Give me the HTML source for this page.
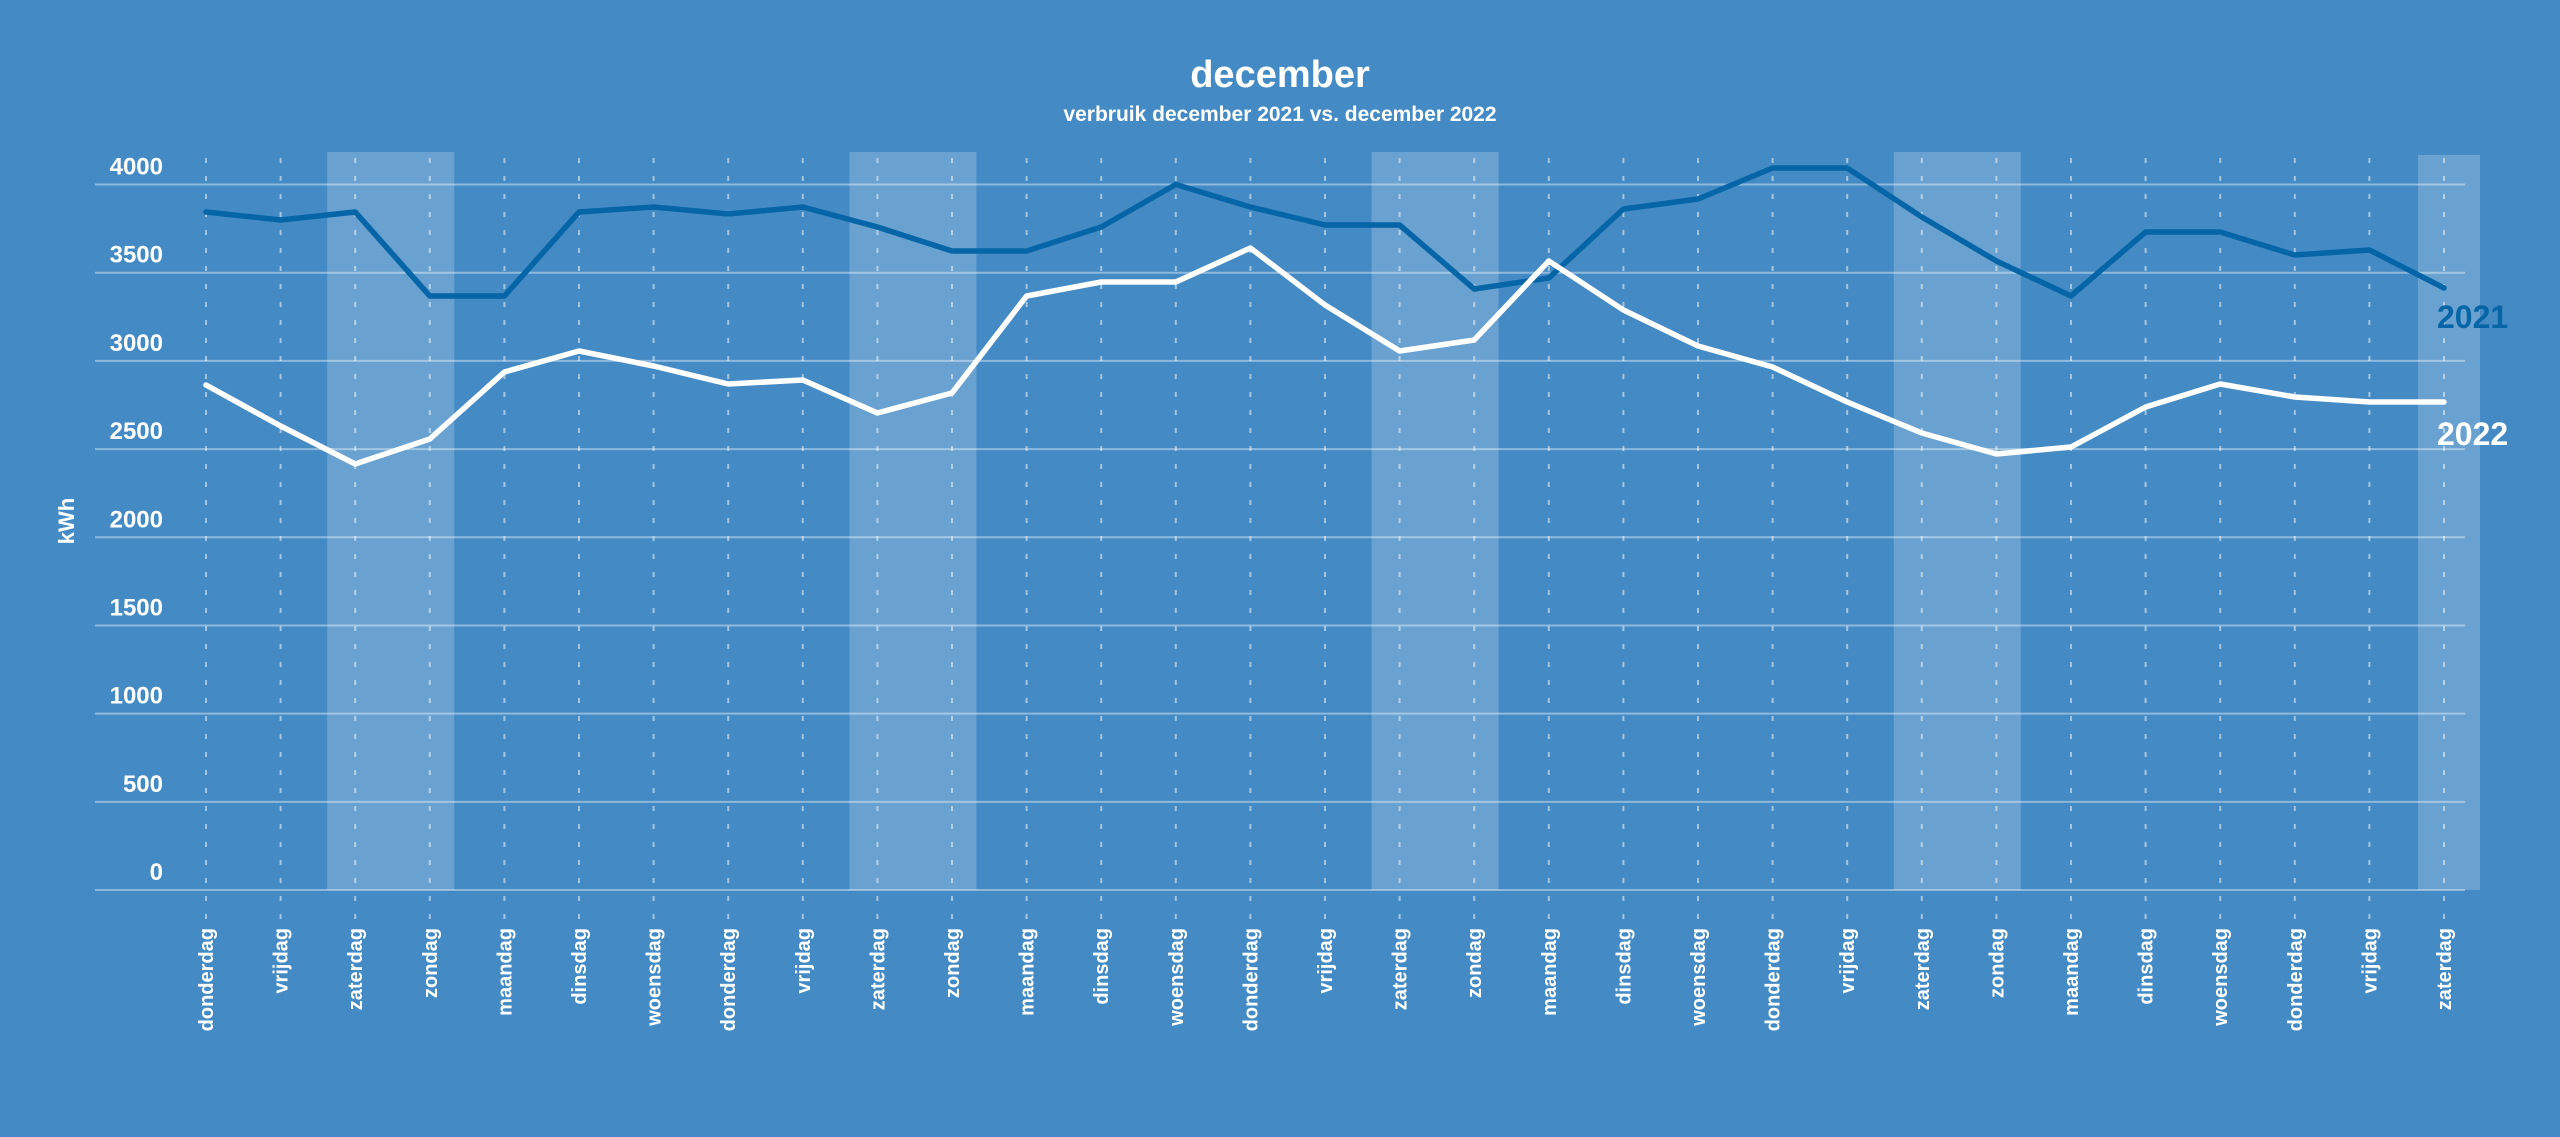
<!DOCTYPE html>
<html><head><meta charset="utf-8"><style>
html,body{margin:0;padding:0;background:#448bc5;}
svg{display:block;font-family:"Liberation Sans",sans-serif;font-weight:bold;}
</style></head><body>
<svg id="s" width="2560" height="1137" viewBox="0 0 2560 1137" xmlns="http://www.w3.org/2000/svg">
<rect width="2560" height="1137" fill="#448bc5"/>
<g id="bands" fill="rgba(255,255,255,0.2)"></g>
<g id="grid" stroke="rgba(255,255,255,0.4)" stroke-width="2"></g>
<g id="ticks" stroke="rgba(255,255,255,0.5)" stroke-width="2" stroke-dasharray="5 13"></g>
<g id="ylab" fill="#fff" font-size="24" text-anchor="end"></g>
<g id="xlab" fill="#fff" font-size="20" text-anchor="end"></g>
<polyline id="l21" fill="none" stroke="#0565a6" stroke-width="5.5" stroke-linejoin="round" stroke-linecap="round"/>
<polyline id="l22" fill="none" stroke="#fff" stroke-width="5.5" stroke-linejoin="round" stroke-linecap="round"/>
<text x="1280" y="87" fill="#fff" font-size="38" text-anchor="middle">december</text>
<text x="1280" y="121" fill="#fff" font-size="21" text-anchor="middle">verbruik december 2021 vs. december 2022</text>
<text x="0" y="0" fill="#fff" font-size="22" text-anchor="middle" transform="translate(74,521) rotate(-90)">kWh</text>
<text x="2437" y="328" fill="#0565a6" font-size="32">2021</text>
<text x="2437" y="445" fill="#fff" font-size="32">2022</text>
</svg>
<script>
var ns="http://www.w3.org/2000/svg";
function el(p,t,a,txt){var e=document.createElementNS(ns,t);for(var k in a)e.setAttribute(k,a[k]);if(txt!==undefined)e.textContent=txt;document.getElementById(p).appendChild(e);return e;}
var x0=206,dx=74.6;
var days=["donderdag","vrijdag","zaterdag","zondag","maandag","dinsdag","woensdag"];
[2,9,16,23].forEach(function(i){el("bands","rect",{x:x0+i*dx-28,y:152,width:127,height:738});});
el("bands","rect",{x:2418,y:155,width:62,height:735});
for(var v=0;v<=4000;v+=500){var y=890-v*0.176375;el("grid","line",{x1:95,x2:2465,y1:y,y2:y});
el("ylab","text",{x:163,y:y-10},String(v));}
for(var i=0;i<31;i++){var x=x0+i*dx;el("ticks","line",{x1:x,x2:x,y1:158,y2:920});
el("xlab","text",{transform:"translate("+(x+7)+",928) rotate(-90)"},days[i%7]);}
var a=[212,220,212,296,296,212,207,214,207,227,251,251,227,184.5,207,225,225,289,278,209,199,168,168,217,261,296,232,232,255,250,288];
var b=[385,426,464,439,372,351,366,384,380,413,393,296,282,282,248,305,351,340,261,310,346,367,402,433,454,447,407,384,397,402,402];
function pts(arr){return arr.map(function(y,i){return (x0+i*dx).toFixed(1)+","+y;}).join(" ");}
document.getElementById("l21").setAttribute("points",pts(a));
document.getElementById("l22").setAttribute("points",pts(b));
</script>
</body></html>
